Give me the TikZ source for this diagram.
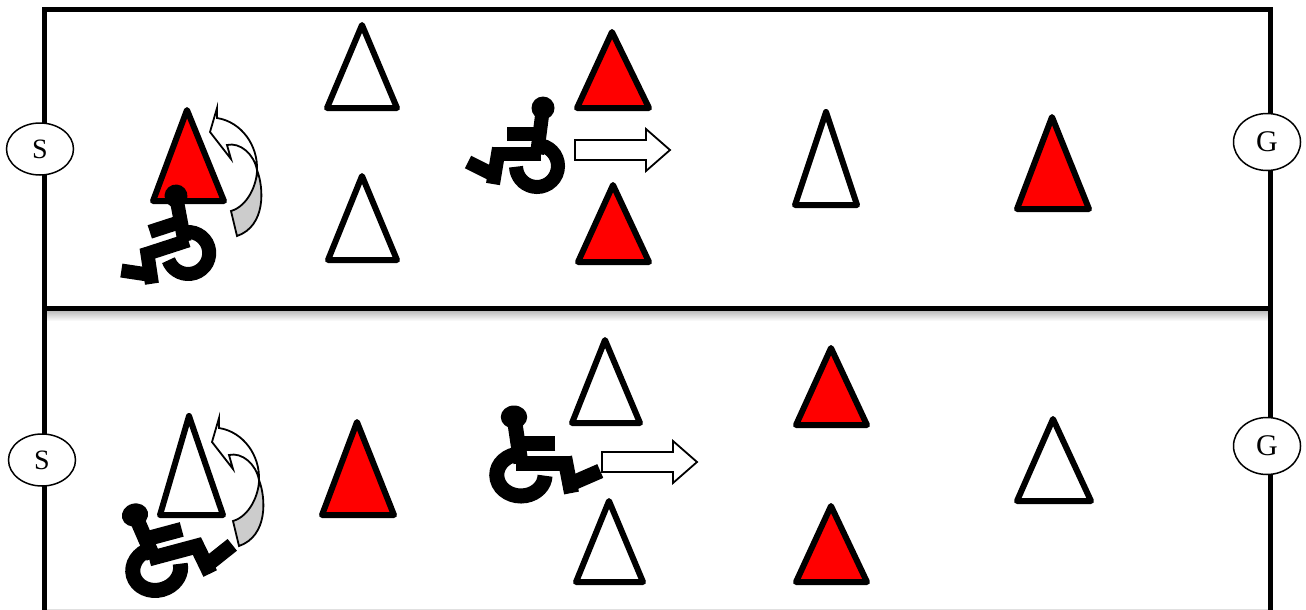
\documentclass[tikz,border=0pt]{standalone}
\usepackage{fontspec}
\setmainfont{Liberation Serif}
\usetikzlibrary{shapes.geometric}
\definecolor{conered}{RGB}{255,0,0}
\definecolor{foldgray}{RGB}{204,204,204}
\tikzset{
 pics/chair/.style={code={
  \fill (0,0) circle[radius=11.5pt];
  \draw (0,0) -- (-6,46);
  \draw (-36,26) -- (-5,26);
  \draw (-2,46) -- (-50,46);
  \draw (-44,40) -- (-50,76);
  \draw (-47,68) -- (-75,54);
  \draw (-6,58) ++(78:21pt) arc[start angle=78,end angle=-178,radius=21pt];
 }},
 pics/turnarrow/.style={code={
  \filldraw[fill=foldgray,line width=1.8pt]
   (21,79) .. controls (38,74) and (47,52) .. (47,38)
   .. controls (54,56) and (56,94) .. (27,104) -- cycle;
  \filldraw[fill=white,line width=1.8pt,line join=miter]
   (0,0) -- (7,-24) -- (7,-14)
   .. controls (32,-10) and (48,14) .. (47,38)
   .. controls (44,22) and (30,10) .. (17,13) -- (21,27) -- cycle;
 }},
 pics/goarrow/.style={code={
  \filldraw[fill=white,line width=1.8pt,line join=miter]
   (0,-10) -- (71,-10) -- (71,-21) -- (95,0) -- (71,21) -- (71,10) -- (0,10) -- cycle;
 }}
}
\begin{document}
\begin{tikzpicture}[
 x=1pt,y=-1pt,
 redcone/.style={line width=6pt,line join=round,fill=conered},
 whitecone/.style={line width=6pt,line join=round,fill=white},
 frame/.style={line width=5pt},
 goal/.style={ellipse,draw,fill=white,line width=1.5pt,inner sep=0pt,minimum width=67pt}
]
 \useasboundingbox (0,0) rectangle (1306,610);

 % lanes
 \shade[top color=black!28,bottom color=white] (46,310) rectangle (1268,321);
 \draw[black!12,line width=1pt] (44,609) -- (1270,609);
 \draw[frame] (44,610) -- (44,10) -- (1270,10) -- (1270,610);
 \draw[frame] (44,308) -- (1270,308);

 % top lane
 \draw[redcone] (153,201) -- (187,110) -- (224,201) -- cycle;
 \draw[whitecone] (327,108) -- (362,25) -- (397,108) -- cycle;
 \draw[whitecone] (328,260) -- (362,176) -- (397,260) -- cycle;
 \draw[redcone] (577,108) -- (612,32) -- (649,108) -- cycle;
 \draw[redcone] (578,262) -- (613,185) -- (649,262) -- cycle;
 \draw[whitecone] (795,205) -- (826,112) -- (857,205) -- cycle;
 \draw[redcone] (1017,209) -- (1052,117) -- (1089,209) -- cycle;

 % bottom lane
 \draw[whitecone] (160,515) -- (189,416) -- (223,515) -- cycle;
 \draw[redcone] (322,515) -- (357,422) -- (394,515) -- cycle;
 \draw[whitecone] (572,423) -- (605,340) -- (640,423) -- cycle;
 \draw[whitecone] (576,582) -- (609,501) -- (643,582) -- cycle;
 \draw[redcone] (796,425) -- (831,348) -- (867,425) -- cycle;
 \draw[redcone] (796,582) -- (831,506) -- (867,582) -- cycle;
 \draw[whitecone] (1017,501) -- (1053,419) -- (1091,501) -- cycle;

 \pic at (210,132) {turnarrow};
 \pic at (212,442) {turnarrow};
 \pic at (575,150) {goarrow};
 \pic at (602,462) {goarrow};

 \pic[line width=14pt,rotate=18] at (176,196) {chair};
 \pic[line width=14pt] at (543,108) {chair};
 \pic[line width=15pt,rotate=15,xscale=-1.15] at (135,515) {chair};
 \pic[line width=15pt,xscale=-1.15] at (514,417) {chair};

 \node[goal,minimum height=52pt,font=\fontsize{28}{28}\selectfont] (startA) at (40,149) {S};
 \node[goal,minimum height=57pt,font=\fontsize{30}{30}\selectfont] (goalA) at (1267,142) {G};
 \node[goal,minimum height=52pt,font=\fontsize{28}{28}\selectfont] (startB) at (42,460) {S};
 \node[goal,minimum height=57pt,font=\fontsize{30}{30}\selectfont] (goalB) at (1267,446) {G};
\end{tikzpicture}
\end{document}
